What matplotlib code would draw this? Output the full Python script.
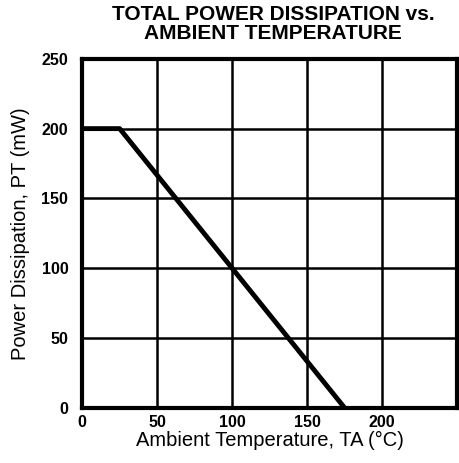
import numpy as np
import matplotlib.pyplot as plt

plt.rcParams['font.family'] = ['Liberation Sans', 'DejaVu Sans']

# derating curve
temp = [0, 25, 175]
power = [200, 200, 0]

x_ticks = [0, 50, 100, 150, 200]
x_grid = [0, 50, 100, 150, 200, 250]
y_ticks = [0, 50, 100, 150, 200, 250]

fig = plt.figure(figsize=(4.59, 4.63), dpi=100)
ax = fig.add_axes([0.179, 0.119, 0.817, 0.754])

ax.plot(temp, power, '-', c='black', lw=3.5, solid_capstyle='butt', zorder=3)

ax.set_xlim(0, 250)
ax.set_ylim(0, 250)
ax.set_xticks(x_grid)
ax.set_xticklabels([str(t) if t in x_ticks else '' for t in x_grid])
ax.set_yticks(y_ticks)
ax.grid(True, color='black', lw=1.8)
ax.tick_params(length=0, labelsize=11.5)
ax.tick_params(axis='x', pad=5)
ax.tick_params(axis='y', pad=10)
for lbl in ax.get_xticklabels() + ax.get_yticklabels():
    lbl.set_fontweight('bold')

for s in ax.spines.values():
    s.set_linewidth(3)

ax.set_xlabel('Ambient Temperature, TA (°C)', fontsize=14.5, labelpad=1)
ax.set_ylabel('Power Dissipation, PT (mW)', fontsize=14.5, labelpad=8)

fig.text(0.595, 0.99, 'TOTAL POWER DISSIPATION vs.\nAMBIENT TEMPERATURE',
         ha='center', va='top', fontsize=15, fontweight='bold', linespacing=1.0)

fig.savefig('out.png', dpi=100)
